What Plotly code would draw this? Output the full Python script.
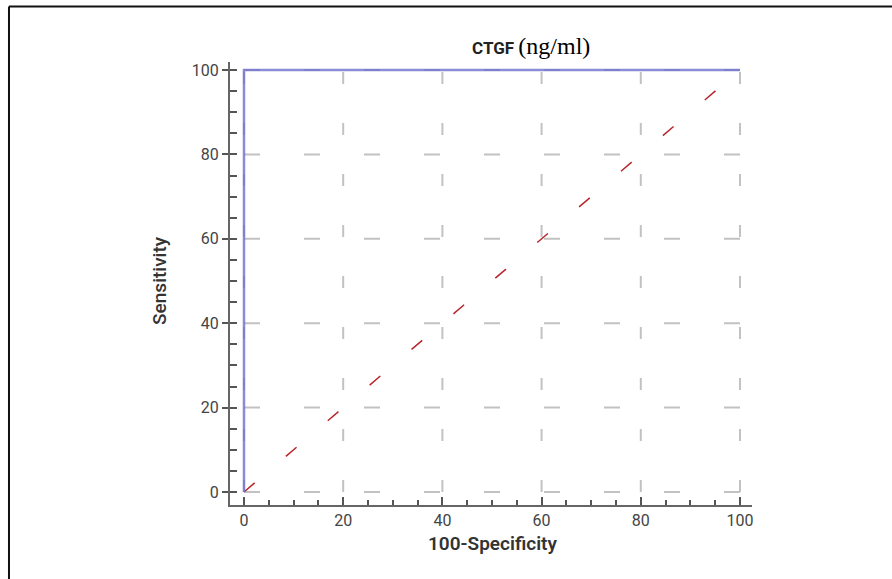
import plotly.graph_objects as go

# ROC curve for CTGF (ng/ml)
roc_fpr = [0, 0, 100]
roc_tpr = [0, 100, 100]

# chance diagonal
ref_x = [0, 100]
ref_y = [0, 100]

x_ticks = [0, 20, 40, 60, 80, 100]
y_ticks = [0, 20, 40, 60, 80, 100]

fig = go.Figure()

# dashed grid drawn from the tick values (line starts at 0 like the original)
grid_color = "#c2c2c2"
for v in x_ticks:
    fig.add_shape(type="line", xref="x", yref="y", x0=v, x1=v, y0=0, y1=100,
                  line=dict(color=grid_color, width=2, dash="12px,39px"), layer="below")
for v in y_ticks:
    fig.add_shape(type="line", xref="x", yref="y", x0=0, x1=100, y0=v, y1=v,
                  line=dict(color=grid_color, width=2, dash="16px,44px"), layer="below")

fig.add_trace(go.Scatter(
    x=ref_x, y=ref_y, mode="lines", showlegend=False, hoverinfo="skip",
    line=dict(color="#b8262c", width=1.5, dash="14px,41px"),
))
fig.add_trace(go.Scatter(
    x=roc_fpr, y=roc_tpr, mode="lines", showlegend=False,
    line=dict(color="#6f6fd0", width=2.5), opacity=0.8,
))

# page frame (left and top edges only are visible in the source image)
frame = dict(color="#111111", width=2)
fig.add_shape(type="line", xref="paper", yref="paper", x0=-0.4234, x1=1.3, y0=1.1253, y1=1.1253, line=frame)
fig.add_shape(type="line", xref="paper", yref="paper", x0=-0.4234, x1=-0.4234, y0=1.1253, y1=-0.2, line=frame)

fig.add_annotation(
    xref="paper", yref="paper", x=0.577, y=1.036, xanchor="center", yanchor="middle",
    showarrow=False,
    text="<b>CTGF</b> <span style='font-family:Liberation Serif;font-size:24px;color:#000'>(ng/ml)</span>",
    font=dict(family="Roboto", size=17, color="#222222"),
)
fig.add_annotation(
    xref="paper", yref="paper", x=0.502, y=-0.086, xanchor="center", yanchor="middle",
    showarrow=False, text="100-Specificity",
    font=dict(family="Roboto", size=19, color="#333333", weight=600),
)
fig.add_annotation(
    xref="paper", yref="paper", x=-0.134, y=0.506, xanchor="center", yanchor="middle",
    showarrow=False, text="Sensitivity", textangle=-90,
    font=dict(family="Roboto", size=19, color="#333333", weight=500),
)

axis_common = dict(
    showgrid=False, zeroline=False, showline=True, linecolor="#666666", linewidth=2,
    tickfont=dict(family="Roboto", size=16, color="#444444"),
    tickcolor="#555555", tickwidth=2,
)

fig.update_xaxes(
    range=[-2.82, 102.42], tickvals=x_ticks, ticks="inside", ticklen=8,
    minor=dict(dtick=5, ticks="inside", ticklen=5, tickcolor="#555555", tickwidth=2),
    **axis_common,
)
fig.update_yaxes(
    range=[-3.08, 101.9], tickvals=y_ticks, ticks="outside", ticklen=6,
    minor=dict(dtick=5, ticks="inside", ticklen=7, tickcolor="#555555", tickwidth=2),
    **axis_common,
)

fig.update_layout(
    width=892, height=579,
    margin=dict(l=230, r=140, t=62, b=74),
    plot_bgcolor="white", paper_bgcolor="white",
)

# the page body keeps its default 8px margin otherwise
fig.write_html(
    "out.html",
    config={"displayModeBar": False},
    post_script="document.body.style.margin = '0px';",
)
